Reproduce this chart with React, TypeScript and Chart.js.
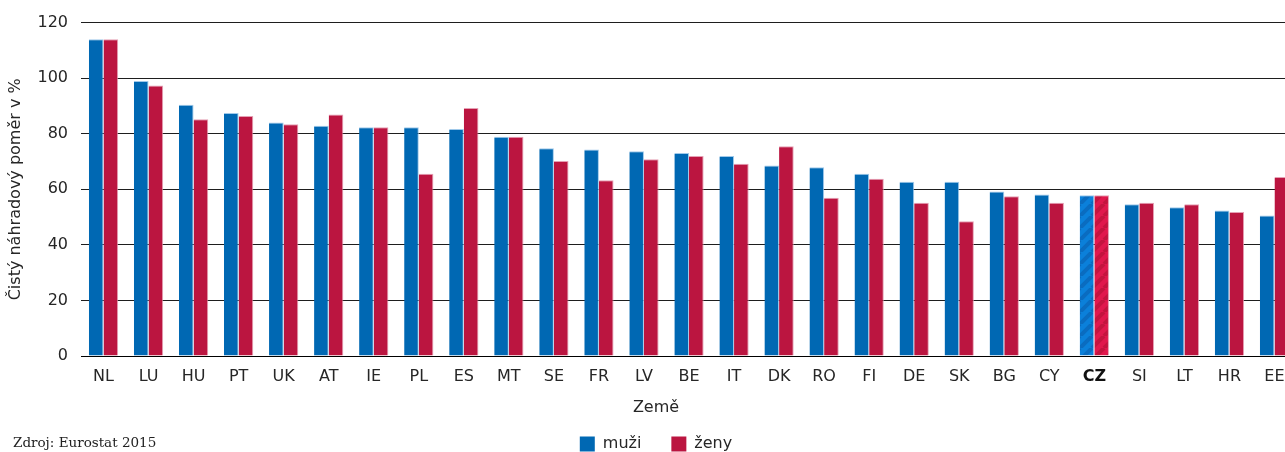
import React, { useEffect, useRef } from "react";
import { Chart, registerables } from "chart.js";

Chart.register(...registerables);

const countries = ["NL", "LU", "HU", "PT", "UK", "AT", "IE", "PL", "ES", "MT", "SE", "FR", "LV", "BE", "IT", "DK", "RO", "FI", "DE", "SK", "BG", "CY", "CZ", "SI", "LT", "HR", "EE"];
const men = [114, 99, 90.4, 87.5, 84, 82.9, 82.3, 82.3, 81.7, 78.9, 74.8, 74.3, 73.7, 73.1, 72, 68.6, 67.9, 65.6, 62.7, 62.7, 59.2, 58.1, 57.9, 54.6, 53.5, 52.4, 50.6];
const women = [114, 97.4, 85.2, 86.4, 83.4, 86.9, 82.3, 65.6, 89.3, 78.9, 70.2, 63.3, 70.8, 72.0, 69.2, 75.5, 57.0, 63.8, 55.2, 48.5, 57.5, 55.2, 57.9, 55.2, 54.6, 51.8, 64.4];
const seriesNames = ["muži", "ženy"];
const highlight = "CZ";
const yTicks = [0, 20, 40, 60, 80, 100, 120];
const yTitle = "Čistý náhradový poměr v %";
const xTitle = "Země";
const source = "Zdroj: Eurostat 2015";

const BLUE = "#0068b3";
const RED = "#bb1540";
const FONT = "'DejaVu Sans', sans-serif";
const TEXT = "#262626";

function makePattern(base: string, stripe: string) {
  const c = document.createElement("canvas");
  c.width = 12;
  c.height = 12;
  const g = c.getContext("2d")!;
  g.fillStyle = base;
  g.fillRect(0, 0, 12, 12);
  g.strokeStyle = stripe;
  g.lineWidth = 4;
  g.beginPath();
  for (const o of [-12, 0, 12]) {
    g.moveTo(o, 12);
    g.lineTo(o + 12, 0);
  }
  g.stroke();
  return g.createPattern(c, "repeat")!;
}

export default function App() {
  const ref = useRef<HTMLCanvasElement>(null);

  useEffect(() => {
    const canvas = ref.current!;
    const hi = countries.indexOf(highlight);
    const bluePat = makePattern("#0b80da", "#0a6cc0");
    const redPat = makePattern("#e0184d", "#c4143f");
    const blueBg = countries.map((_, i) => (i === hi ? bluePat : BLUE));
    const redBg = countries.map((_, i) => (i === hi ? redPat : RED));

    const sourcePlugin = {
      id: "sourceText",
      afterDraw(chart: any) {
        const ctx = chart.ctx;
        ctx.save();
        ctx.font = "13.5px 'DejaVu Serif', serif";
        ctx.fillStyle = "#222";
        ctx.textAlign = "left";
        ctx.textBaseline = "alphabetic";
        ctx.fillText(source, 13, 447);
        ctx.restore();
      },
    };

    const chart = new Chart(canvas, {
      type: "bar",
      data: {
        labels: countries,
        datasets: [
          {
            label: seriesNames[0],
            data: men,
            backgroundColor: blueBg,
            borderColor: "rgba(150,195,232,0.9)",
            borderWidth: { top: 1, right: 1, left: 0, bottom: 0 },
            categoryPercentage: 0.65,
            barPercentage: 1,
          },
          {
            label: seriesNames[1],
            data: women,
            backgroundColor: redBg,
            borderColor: "rgba(226,150,172,0.9)",
            borderWidth: { top: 1, right: 1, left: 0, bottom: 0 },
            categoryPercentage: 0.65,
            barPercentage: 1,
          },
        ],
      },
      options: {
        responsive: false,
        animation: false,
        layout: { padding: { top: 20, right: 0, left: 0, bottom: 0 } },
        scales: {
          x: {
            grid: { display: false, drawTicks: false },
            border: { display: true, color: "#000", width: 1 },
            ticks: {
              padding: 13,
              color: (c: any) => (c.index === hi ? "#111" : TEXT),
              font: (c: any) => ({ family: FONT, size: 16, lineHeight: 1, weight: c.index === hi ? "bold" : "normal" }),
              autoSkip: false,
              maxRotation: 0,
            },
          },
          y: {
            min: 0,
            max: 120,
            afterBuildTicks: (s: any) => {
              s.ticks = yTicks.map((v) => ({ value: v }));
            },
            afterFit: (s: any) => {
              s.width = 81;
            },
            grid: { color: "#1e1e1e", lineWidth: 1, drawTicks: false },
            border: { display: false },
            ticks: { padding: 13, color: TEXT, font: { family: FONT, size: 16 } },
            title: {
              display: true,
              text: yTitle,
              color: TEXT,
              font: { family: FONT, size: 16 },
              padding: { top: 6, bottom: 0 },
            },
          },
          yRight: {
            type: "linear",
            position: "right",
            min: 0,
            max: 120,
            display: true,
            grid: { display: false, drawTicks: false },
            border: { display: false },
            ticks: { display: false },
            afterFit: (s: any) => {
              s.width = 15;
            },
          },
        },
        plugins: {
          tooltip: { enabled: false },
          title: {
            display: true,
            text: xTitle,
            position: "bottom",
            weight: 500,
            color: TEXT,
            font: { family: FONT, size: 16, weight: "normal", lineHeight: 1 },
            padding: { top: 2, bottom: -10 },
          },
          legend: {
            position: "bottom",
            labels: {
              boxWidth: 15,
              boxHeight: 15,
              padding: 30,
              color: TEXT,
              font: { family: FONT, size: 16 },
              generateLabels: (ch: any) =>
                ch.data.datasets.map((ds: any, i: number) => ({
                  text: ds.label,
                  fillStyle: i === 0 ? BLUE : RED,
                  strokeStyle: i === 0 ? BLUE : RED,
                  lineWidth: 0,
                  hidden: false,
                  datasetIndex: i,
                  fontColor: TEXT,
                })),
            },
          },
        },
      } as any,
      plugins: [sourcePlugin],
    });
    return () => chart.destroy();
  }, []);

  return (
    <div style={{ position: "fixed", left: 0, top: 0, width: 1285, height: 452, overflow: "hidden", background: "#fff" }}>
      <canvas ref={ref} width={1312} height={462} style={{ position: "absolute", left: 0, top: 0 }} />
    </div>
  );
}
